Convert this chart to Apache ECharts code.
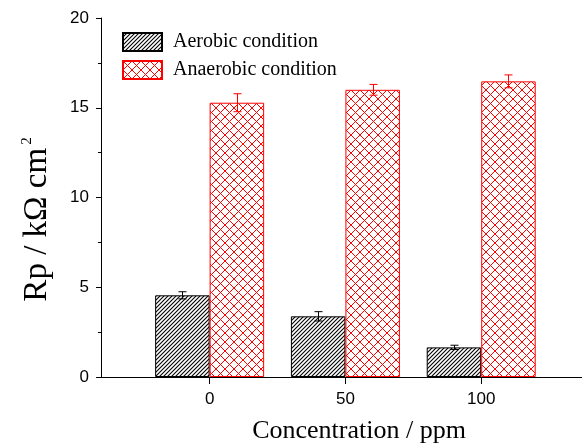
<!DOCTYPE html>
<html>
<head>
<meta charset="utf-8">
<script src="https://cdn.jsdelivr.net/npm/echarts@6/dist/echarts.min.js"></script>
<style>html,body{margin:0;padding:0;background:#fff}#chart{width:582px;height:445px}</style>
</head>
<body>
<div id="chart"></div>
<script>
// ---- data ----
var concentrations = [0, 50, 100];
var aerobicValues = [4.55, 3.38, 1.65];
var aerobicErrors = [0.2, 0.26, 0.12];
var anaerobicValues = [15.28, 16.0, 16.47];
var anaerobicErrors = [0.5, 0.3, 0.36];
var seriesNames = ['Aerobic condition', 'Anaerobic condition'];
var xTickValues = [0, 50, 100];

function hatchPattern() {
  var c = document.createElement('canvas');
  c.width = 4; c.height = 4;
  var ctx = c.getContext('2d');
  ctx.fillStyle = '#fff'; ctx.fillRect(0, 0, 4, 4);
  ctx.strokeStyle = '#000'; ctx.lineWidth = 1.1;
  ctx.beginPath();
  ctx.moveTo(-1, 5); ctx.lineTo(5, -1);
  ctx.moveTo(-1, 1); ctx.lineTo(1, -1);
  ctx.moveTo(3, 5); ctx.lineTo(5, 3);
  ctx.stroke();
  return c;
}
function crossPattern() {
  var s = 9;
  var c = document.createElement('canvas');
  c.width = s; c.height = s;
  var ctx = c.getContext('2d');
  ctx.fillStyle = '#fff'; ctx.fillRect(0, 0, s, s);
  ctx.strokeStyle = '#ff0000'; ctx.lineWidth = 1;
  ctx.beginPath();
  ctx.moveTo(0, 0); ctx.lineTo(s, s);
  ctx.moveTo(0, s); ctx.lineTo(s, 0);
  ctx.stroke();
  return c;
}

var barW = 54.5;
function pairs(vals) { return concentrations.map(function (c, i) { return [c, vals[i]]; }); }
function errData(vals, errs) { return concentrations.map(function (c, i) { return [c, vals[i] - errs[i], vals[i] + errs[i]]; }); }
function errRender(offset, color) {
  return function (params, api) {
    var lo = api.coord([api.value(0), api.value(1)]);
    var hi = api.coord([api.value(0), api.value(2)]);
    var x = Math.round(lo[0] + offset) + 0.5;
    var cap = 4;
    var st = { stroke: color, lineWidth: 1 };
    return {
      type: 'group',
      children: [
        { type: 'line', shape: { x1: x, y1: lo[1], x2: x, y2: hi[1] }, style: st },
        { type: 'line', shape: { x1: x - cap, y1: lo[1], x2: x + cap, y2: lo[1] }, style: st },
        { type: 'line', shape: { x1: x - cap, y1: hi[1], x2: x + cap, y2: hi[1] }, style: st }
      ]
    };
  };
}

var chart = echarts.init(document.getElementById('chart'), null, { renderer: 'canvas' });
var axisFont = { fontFamily: 'Liberation Sans', fontSize: 17, color: '#000' };
chart.setOption({
  animation: false,
  backgroundColor: '#fff',
  grid: { left: 101, right: -35, top: 18, bottom: 68, outerBoundsMode: 'none', containLabel: false },
  legend: {
    orient: 'vertical', left: 122, top: 32, padding: 0, itemWidth: 39, itemHeight: 18, itemGap: 8,
    icon: 'rect',
    textStyle: { fontFamily: 'Liberation Serif', fontSize: 20, color: '#000', padding: [0, 0, 0, 6] },
    data: seriesNames
  },
  xAxis: {
    type: 'value', min: -40, max: 150, interval: 10,
    name: 'Concentration / ppm', nameLocation: 'middle', nameGap: 41,
    nameTextStyle: { fontFamily: 'Liberation Serif', fontSize: 26, color: '#000' },
    axisLine: { onZero: false, lineStyle: { color: '#000', width: 1 } },
    axisTick: { show: true, length: 7, customValues: xTickValues, lineStyle: { color: '#000' } },
    axisLabel: { customValues: xTickValues, margin: 14, ...axisFont },
    splitLine: { show: false }
  },
  yAxis: {
    type: 'value', min: 0, max: 20, interval: 5,
    name: 'Rp / kΩ cm{sup|2}', nameLocation: 'middle', nameGap: 46,
    nameTextStyle: {
      fontFamily: 'Liberation Serif', fontSize: 33, color: '#000', padding: [0, 44, 0, 0],
      rich: { sup: { fontFamily: 'Liberation Serif', fontSize: 15, padding: [0, 0, 20, 3] } }
    },
    axisLine: { show: true, onZero: false, lineStyle: { color: '#000', width: 1 } },
    axisTick: { show: true, length: 5, lineStyle: { color: '#000' } },
    minorTick: { show: true, splitNumber: 2, length: 3, lineStyle: { color: '#000' } },
    axisLabel: { margin: 12, ...axisFont },
    splitLine: { show: false }
  },
  series: [
    {
      name: seriesNames[0], type: 'bar', data: pairs(aerobicValues), barWidth: barW, barGap: '0%',
      itemStyle: { color: { image: hatchPattern(), repeat: 'repeat' }, borderColor: '#000', borderWidth: 1 }
    },
    {
      name: seriesNames[1], type: 'bar', data: pairs(anaerobicValues), barWidth: barW, barGap: '0%',
      itemStyle: { color: { image: crossPattern(), repeat: 'repeat' }, borderColor: '#ff0000', borderWidth: 1 }
    },
    {
      type: 'custom', data: errData(aerobicValues, aerobicErrors), renderItem: errRender(-barW / 2, '#000'), z: 5
    },
    {
      type: 'custom', data: errData(anaerobicValues, anaerobicErrors), renderItem: errRender(barW / 2, '#ff0000'), z: 5
    }
  ]
});
</script>
</body>
</html>
